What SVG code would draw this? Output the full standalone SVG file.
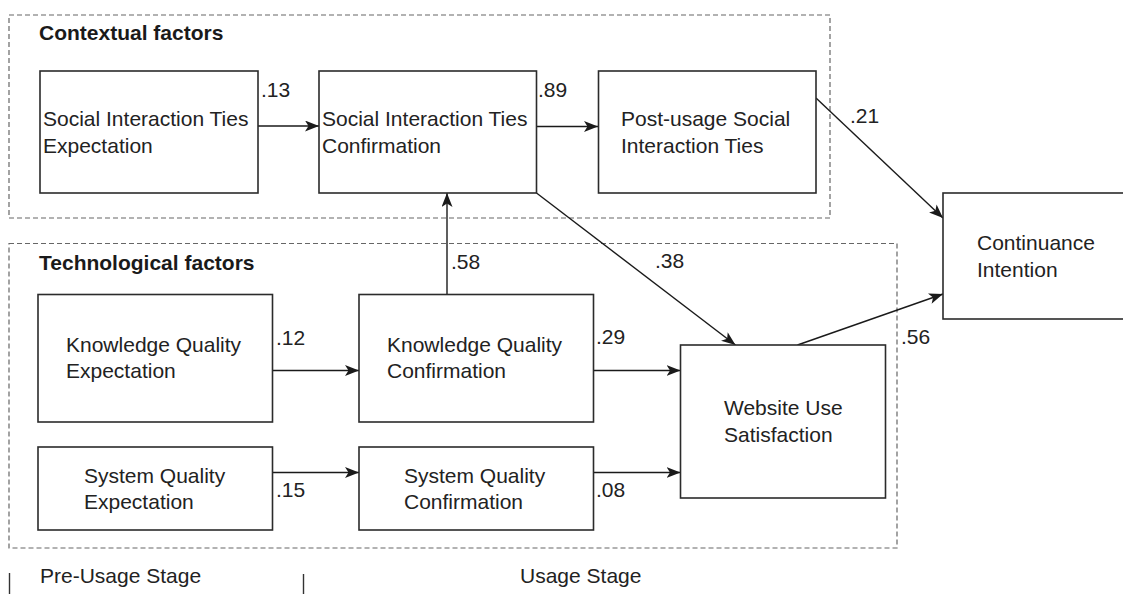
<svg xmlns="http://www.w3.org/2000/svg" width="1123" height="594" viewBox="0 0 1123 594">
<defs>
<style>
.box{fill:#fff;stroke:#2b2b2b;stroke-width:1.6}
.grp{fill:none;stroke:#666;stroke-width:1.2;stroke-dasharray:5 3}
.c{fill:none;stroke:#1a1a1a;stroke-width:1.4}
.t{font-family:"Liberation Sans",Arial,Helvetica,sans-serif;font-size:21px;fill:#222}
.h{font-family:"Liberation Sans",Arial,Helvetica,sans-serif;font-size:21px;font-weight:bold;fill:#1a1a1a}
.tick{stroke:#333;stroke-width:1.4}
</style>
<marker id="ah" markerUnits="userSpaceOnUse" markerWidth="15" markerHeight="12" refX="14" refY="5.5" orient="auto">
<path d="M0,0 L14,5.5 L0,11 L3.5,5.5 z" fill="#1a1a1a"/>
</marker>
</defs>
<rect width="1123" height="594" fill="#fff"/>
<g id="contextual-factors">
<rect class="grp" x="9" y="15" width="821" height="203"/>
<text class="h" x="39" y="40">Contextual factors</text>
</g>
<g id="technological-factors">
<rect class="grp" x="9" y="243.5" width="888" height="304.5"/>
<text class="h" x="39" y="270">Technological factors</text>
</g>
<g id="connectors">
<line class="c" x1="258" y1="126" x2="319" y2="126" marker-end="url(#ah)"/>
<line class="c" x1="536" y1="126.5" x2="598" y2="126.5" marker-end="url(#ah)"/>
<line class="c" x1="816" y1="98" x2="943" y2="218" marker-end="url(#ah)"/>
<line class="c" x1="447" y1="294" x2="447" y2="193" marker-end="url(#ah)"/>
<line class="c" x1="536.5" y1="193" x2="735.5" y2="345" marker-end="url(#ah)"/>
<line class="c" x1="272.5" y1="370.5" x2="359" y2="370.5" marker-end="url(#ah)"/>
<line class="c" x1="594" y1="370.5" x2="680.5" y2="370.5" marker-end="url(#ah)"/>
<line class="c" x1="272.5" y1="472.5" x2="359" y2="472.5" marker-end="url(#ah)"/>
<line class="c" x1="594" y1="472.5" x2="680.5" y2="472.5" marker-end="url(#ah)"/>
<line class="c" x1="797.5" y1="345" x2="943" y2="294" marker-end="url(#ah)"/>
<text class="t" x="261" y="97">.13</text>
<text class="t" x="538" y="97">.89</text>
<text class="t" x="850" y="123">.21</text>
<text class="t" x="451" y="269">.58</text>
<text class="t" x="655" y="268">.38</text>
<text class="t" x="276" y="345">.12</text>
<text class="t" x="596" y="344">.29</text>
<text class="t" x="901" y="344">.56</text>
<text class="t" x="276" y="497">.15</text>
<text class="t" x="596" y="497">.08</text>
</g>
<g id="sit-expectation">
<rect class="box" x="40" y="71" width="218" height="122"/>
<text class="t" x="43" y="126">Social Interaction Ties</text>
<text class="t" x="43" y="153">Expectation</text>
</g>
<g id="sit-confirmation">
<rect class="box" x="319" y="71" width="217.5" height="122"/>
<text class="t" x="322" y="126">Social Interaction Ties</text>
<text class="t" x="322" y="153">Confirmation</text>
</g>
<g id="post-usage-sit">
<rect class="box" x="598.5" y="71" width="217.5" height="122"/>
<text class="t" x="621" y="126">Post-usage Social</text>
<text class="t" x="621" y="153">Interaction Ties</text>
</g>
<g id="continuance-intention">
<rect class="box" x="943" y="193" width="200" height="126"/>
<text class="t" x="977" y="250">Continuance</text>
<text class="t" x="977" y="277">Intention</text>
</g>
<g id="kq-expectation">
<rect class="box" x="38" y="294.5" width="234.5" height="127.5"/>
<text class="t" x="66" y="352">Knowledge Quality</text>
<text class="t" x="66" y="378">Expectation</text>
</g>
<g id="kq-confirmation">
<rect class="box" x="359" y="294.5" width="234.5" height="127.5"/>
<text class="t" x="387" y="352">Knowledge Quality</text>
<text class="t" x="387" y="378">Confirmation</text>
</g>
<g id="website-use-satisfaction">
<rect class="box" x="680.5" y="345" width="205" height="153"/>
<text class="t" x="724" y="415">Website Use</text>
<text class="t" x="724" y="442">Satisfaction</text>
</g>
<g id="sq-expectation">
<rect class="box" x="38" y="447" width="234.5" height="83"/>
<text class="t" x="84" y="483">System Quality</text>
<text class="t" x="84" y="509">Expectation</text>
</g>
<g id="sq-confirmation">
<rect class="box" x="359" y="447" width="234.5" height="83"/>
<text class="t" x="404" y="483">System Quality</text>
<text class="t" x="404" y="509">Confirmation</text>
</g>
<g id="stages">
<line class="tick" x1="9.5" y1="573" x2="9.5" y2="594"/>
<line class="tick" x1="303.5" y1="574" x2="303.5" y2="594"/>
<text class="t" x="40" y="583">Pre-Usage Stage</text>
<text class="t" x="520" y="583">Usage Stage</text>
</g>
</svg>
